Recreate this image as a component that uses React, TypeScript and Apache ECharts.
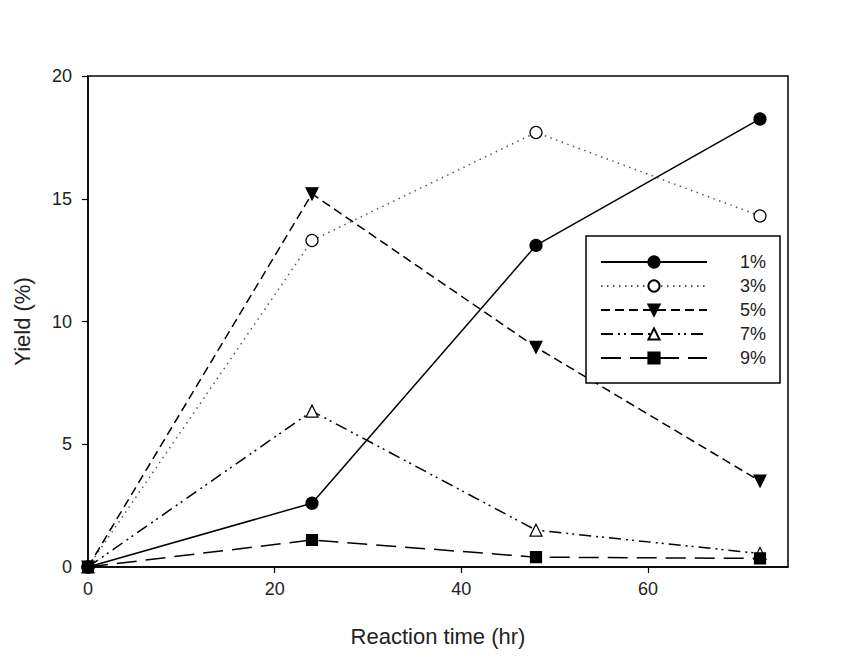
import React, { useEffect, useRef } from "react";
import * as echarts from "echarts";

const times = [0, 24, 48, 72];
const seriesNames = ["1%", "3%", "5%", "7%", "9%"];
const y1 = [0, 2.6, 13.1, 18.25];
const y3 = [0, 13.3, 17.7, 14.3];
const y5 = [0, 15.2, 8.95, 3.5];
const y7 = [0, 6.35, 1.5, 0.55];
const y9 = [0, 1.1, 0.4, 0.35];
const xTicks = [0, 20, 40, 60];

export default function App() {
  const ref = useRef<HTMLDivElement>(null);
  useEffect(() => {
    document.body.style.margin = "0";
    const chart = echarts.init(ref.current!, null, { renderer: "svg" });
    const font = "Liberation Sans, Arial, sans-serif";
    const mk = (name: string, data: number[], symbol: string, dash: any, extra: any = {}) => ({
      name,
      type: "line",
      data: times.map((t, i) => [t, data[i]]),
      symbol,
      symbolSize: 12,
      lineStyle: { color: extra.lineColor || "#000", width: 1.5, type: dash },
      itemStyle: { color: extra.fill || "#000", borderColor: "#000", borderWidth: 1.2 },
      symbolRotate: extra.rotate || 0,
      ...(extra.opts || {}),
    });
    chart.setOption({
      animation: false,
      backgroundColor: "#fff",
      grid: {
        left: 88, top: 76, right: 77, bottom: 89,
        show: true, borderColor: "#000", borderWidth: 1.5,
      },
      xAxis: {
        type: "value",
        min: 0,
        max: 75,
        interval: 20,
        name: "Reaction time (hr)",
        nameLocation: "middle",
        nameGap: 58,
        nameTextStyle: { fontFamily: font, fontSize: 22, color: "#222" },
        axisLine: { show: true, lineStyle: { color: "#000", width: 1.5 } },
        axisTick: { show: true, inside: false, length: 6, lineStyle: { color: "#000", width: 1.2 } },
        axisLabel: {
          fontFamily: font, fontSize: 18, color: "#222", margin: 13,
          showMaxLabel: false,
          formatter: (v: number) => (xTicks.includes(v) ? String(v) : ""),
        },
        splitLine: { show: false },
      },
      yAxis: {
        type: "value",
        min: 0,
        max: 20,
        interval: 5,
        name: "Yield (%)",
        nameLocation: "middle",
        nameGap: 55,
        nameTextStyle: { fontFamily: font, fontSize: 22, color: "#222" },
        axisLine: { show: true, lineStyle: { color: "#000", width: 1.5 } },
        axisTick: { show: true, inside: false, length: 6, lineStyle: { color: "#000", width: 1.2 } },
        axisLabel: { fontFamily: font, fontSize: 18, color: "#222", margin: 16 },
        splitLine: { show: false },
      },
      legend: {
        orient: "vertical",
        left: 586,
        top: 236,
        padding: [17, 14, 16, 14],
        borderColor: "#000",
        borderWidth: 1.5,
        backgroundColor: "#fff",
        itemWidth: 106,
        itemHeight: 14,
        itemGap: 6,
        data: seriesNames,
        textStyle: { fontFamily: font, fontSize: 18, lineHeight: 16, color: "#222", padding: [0, 0, 0, 28] },
      },
      series: [
        mk(seriesNames[0], y1, "circle", "solid"),
        mk(seriesNames[1], y3, "circle", [1.5, 4.5], { fill: "#fff", lineColor: "#555" }),
        mk(seriesNames[2], y5, "triangle", [9, 5], { rotate: 180 }),
        mk(seriesNames[3], y7, "triangle", [12, 5, 2, 4, 2, 5], { fill: "#fff" }),
        mk(seriesNames[4], y9, "rect", [20, 9], { opts: { symbolSize: 11 } }),
      ],
    });
    return () => chart.dispose();
  }, []);
  return <div ref={ref} style={{ width: 865, height: 656 }} />;
}
